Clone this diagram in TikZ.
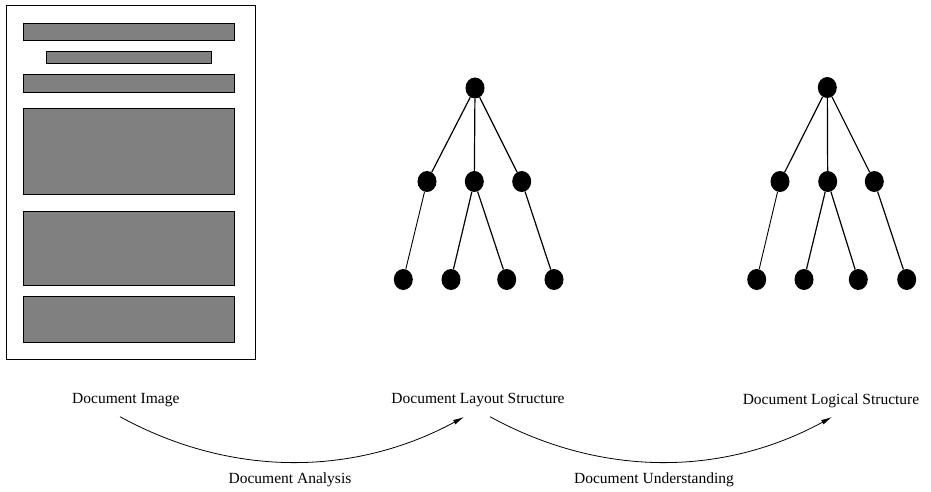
\documentclass[tikz,border=0pt]{standalone}
\usepackage{fontspec}
\setmainfont{Liberation Serif}
\usetikzlibrary{arrows.meta,shapes.geometric}
\begin{document}
\begin{tikzpicture}[x=1pt,y=-1pt,
  blockbox/.style={draw=black,fill={rgb,255:red,128;green,128;blue,128},line width=0.9pt},
  treenode/.style={ellipse,fill=black,inner sep=0pt,minimum width=19pt,minimum height=21pt},
  treeedge/.style={line width=1.2pt},
  thinedge/.style={line width=0.9pt},
  lbl/.style={font=\fontsize{15.5}{18}\selectfont,inner sep=0pt,anchor=center},
  flow/.style={line width=0.8pt,-{Latex[length=11pt,width=5pt]}}]
\useasboundingbox (0,0) rectangle (931,492);
% document image
\draw[line width=1pt] (6,6) rectangle (255,359);
\draw[blockbox] (23,23.5) rectangle (234,40.5);
\draw[blockbox] (46,51.7) rectangle (211,63.3);
\draw[blockbox] (23,74.5) rectangle (234,92);
\draw[blockbox] (23,108.5) rectangle (234,194.5);
\draw[blockbox] (23,211) rectangle (234,285.5);
\draw[blockbox] (23,296.5) rectangle (234,342.5);
% tree 1
\node[treenode] (r1) at (475,88) {};
\node[treenode] (a1) at (427,181.5) {};
\node[treenode] (b1) at (474.3,181.5) {};
\node[treenode] (c1) at (521.7,181.5) {};
\node[treenode] (l11) at (403.3,279.5) {};
\node[treenode] (l12) at (451,279.5) {};
\node[treenode] (l13) at (506.7,279.5) {};
\node[treenode] (l14) at (554,279.5) {};
\draw[treeedge] (r1) -- (a1);
\draw[treeedge] (r1) -- (b1);
\draw[treeedge] (r1) -- (c1);
\draw[thinedge] (a1) -- (l11);
\draw[treeedge] (b1) -- (l12);
\draw[treeedge] (b1) -- (l13);
\draw[treeedge] (c1) -- (l14);
% tree 2
\node[treenode] (r2) at (827.3,87.5) {};
\node[treenode] (a2) at (780,181.5) {};
\node[treenode] (b2) at (827.7,181.5) {};
\node[treenode] (c2) at (874.3,181.5) {};
\node[treenode] (l21) at (756.7,279.5) {};
\node[treenode] (l22) at (804,279.5) {};
\node[treenode] (l23) at (858.3,279.5) {};
\node[treenode] (l24) at (906.7,279.5) {};
\draw[treeedge] (r2) -- (a2);
\draw[treeedge] (r2) -- (b2);
\draw[treeedge] (r2) -- (c2);
\draw[thinedge] (a2) -- (l21);
\draw[treeedge] (b2) -- (l22);
\draw[treeedge] (b2) -- (l23);
\draw[treeedge] (c2) -- (l24);
% labels
\node[lbl] (t1) at (125.8,400.5) {Document Image};
\node[lbl] (t2) at (478,400.5) {Document Layout Structure};
\node[lbl] (t3) at (831,400.5) {Document Logical Structure};
\node[lbl] (t4) at (290,480) {Document Analysis};
\node[lbl] (t5) at (654,480) {Document Understanding};
% arrows
\coordinate (s1) at (120,416.7);
\coordinate (e1) at (464,417);
\coordinate (s2) at (490,416.7);
\coordinate (e2) at (832,417);
\draw[flow] (s1) .. controls (230,477) and (353,477) .. (e1);
\draw[flow] (s2) .. controls (600,477) and (722,477) .. (e2);
\end{tikzpicture}
\end{document}
